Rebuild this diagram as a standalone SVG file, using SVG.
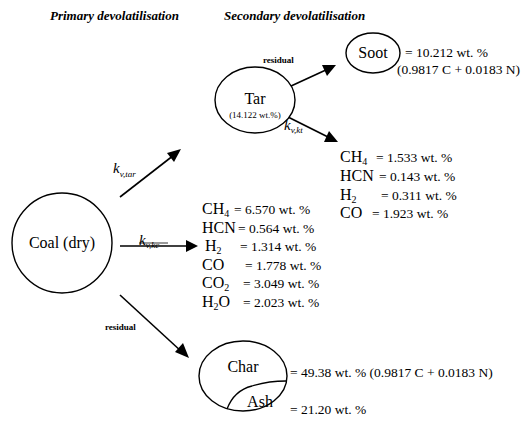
<svg xmlns="http://www.w3.org/2000/svg" width="524" height="429" viewBox="0 0 524 429">
<style>
text{font-family:"Liberation Serif","Times New Roman",serif;fill:#000}
.hd{font-size:13px;font-weight:bold;font-style:italic}
.nm{font-size:16px}
.sub{font-size:10px}
.sm{font-size:9px}
.res{font-size:9px;font-weight:bold}
.val{font-size:13.5px}
.k{font-size:15px;font-style:italic}
.ks{font-size:9px;font-style:italic}
.shape{fill:#fff;stroke:#000;stroke-width:1.4}
.ln{stroke:#000;stroke-width:1.6;fill:none}
.head{fill:#000}
</style>
<rect width="524" height="429" fill="#fff"/>
<text class="hd" x="50" y="20">Primary devolatilisation</text>
<text class="hd" x="224" y="20">Secondary devolatilisation</text>

<g id="connectors">
<line class="ln" x1="120" y1="197" x2="174" y2="155"/>
<path class="head" d="M181,149 L167,153 L174,162 z"/>
<line class="ln" x1="120" y1="246" x2="188" y2="246"/>
<path class="head" d="M198,246 L186,240 L186,252 z"/>
<line class="ln" x1="120" y1="295" x2="182" y2="352"/>
<path class="head" d="M189,358 L175,352 L183,343 z"/>
<line class="ln" x1="278" y1="92" x2="328" y2="69"/>
<path class="head" d="M336,65 L322,65 L327,76 z"/>
<line class="ln" x1="278" y1="112" x2="330" y2="138"/>
<path class="head" d="M338,142 L329,131 L324,142 z"/>
<text class="k" x="113" y="173">k<tspan class="ks" dy="4">v,tar</tspan></text>
<text class="k" x="139" y="245">k<tspan class="ks" dy="3">v,kc</tspan></text>
<line x1="139" y1="243" x2="168" y2="243" stroke="#000" stroke-width="0.8"/>
<text class="res" x="105" y="330">residual</text>
<text class="res" x="263" y="63">residual</text>
<text class="k" x="284" y="130">k<tspan class="ks" dy="3">v,kt</tspan></text>
</g>

<g id="coal">
<circle class="shape" cx="62" cy="243" r="50"/>
<text class="nm" x="62" y="248" text-anchor="middle">Coal (dry)</text>
</g>

<g id="tar">
<ellipse class="shape" cx="255" cy="100" rx="40" ry="33"/>
<text class="nm" x="255" y="104" text-anchor="middle">Tar</text>
<text class="sm" x="255" y="118" text-anchor="middle">(14.122 wt.%)</text>
</g>

<g id="soot">
<ellipse class="shape" cx="373" cy="53" rx="27" ry="20"/>
<text class="nm" x="373" y="58" text-anchor="middle">Soot</text>
<text class="val" x="405" y="57">= 10.212 wt. %</text>
<text class="val" x="397" y="74">(0.9817 C + 0.0183 N)</text>
</g>

<g id="tar-gases">
<text class="nm" x="340" y="162">CH<tspan class="sub" dy="3">4</tspan></text>
<text class="val" x="376" y="162">= 1.533 wt. %</text>
<text class="nm" x="340" y="181">HCN</text>
<text class="val" x="379" y="181">= 0.143 wt. %</text>
<text class="nm" x="340" y="200">H<tspan class="sub" dy="3">2</tspan></text>
<text class="val" x="381" y="200">= 0.311 wt. %</text>
<text class="nm" x="340" y="218">CO</text>
<text class="val" x="372" y="218">= 1.923 wt. %</text>
</g>

<g id="coal-gases">
<text class="nm" x="202" y="214">CH<tspan class="sub" dy="3">4</tspan></text>
<text class="val" x="234" y="214">= 6.570 wt. %</text>
<text class="nm" x="202" y="233">HCN</text>
<text class="val" x="238" y="233">= 0.564 wt. %</text>
<text class="nm" x="205" y="251">H<tspan class="sub" dy="3">2</tspan></text>
<text class="val" x="240" y="251">= 1.314 wt. %</text>
<text class="nm" x="202" y="270">CO</text>
<text class="val" x="245" y="270">= 1.778 wt. %</text>
<text class="nm" x="202" y="288">CO<tspan class="sub" dy="3">2</tspan></text>
<text class="val" x="243" y="288">= 3.049 wt. %</text>
<text class="nm" x="202" y="307">H<tspan class="sub" dy="3">2</tspan><tspan dy="-3">O</tspan></text>
<text class="val" x="243" y="307">= 2.023 wt. %</text>
</g>

<g id="char">
<ellipse class="shape" cx="243" cy="376" rx="44" ry="35"/>
<path class="ln" style="stroke-width:1.3" d="M227,409 C232,396 240,389 252,386 C265,382 277,381 286,381"/>
<text class="nm" x="243" y="372" text-anchor="middle">Char</text>
<text class="nm" x="260" y="407" text-anchor="middle">Ash</text>
<text class="val" x="290" y="377">= 49.38 wt. % (0.9817 C + 0.0183 N)</text>
<text class="val" x="290" y="414">= 21.20 wt. %</text>
</g>
</svg>
